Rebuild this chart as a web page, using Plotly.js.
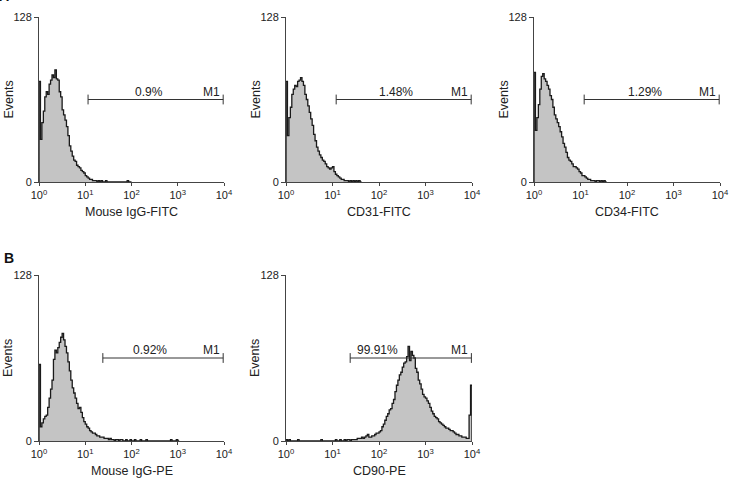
<!DOCTYPE html>
<html>
<head>
<meta charset="utf-8">
<script src="https://cdn.plot.ly/plotly-3.0.1.min.js"></script>
<style>
  html, body { margin: 0; padding: 0; background: #fff; }
  #chart { width: 729px; height: 479px; }
</style>
</head>
<body>
<div id="chart"></div>
<script>
// Flow cytometry histograms: events per log-spaced channel (32 channels per decade, 10^0..10^4).
const CHANNELS_PER_DECADE = 32;

// Panel A: FITC isotype control, CD31, CD34
const countsIgGFITC = [78,33,46,55,66,70,68,76,79,83,81,87,80,79,70,66,56,52,48,43,36,28,24,20,17,16,13,12,11,9,8,7,5,4,3,2,2,1,1,1,0,1,0,1,0,0,1,0,0,0,0,0,0,0,0,0,0,0,0,0,0,1,0,0];
const countsCD31    = [78,36,50,58,68,72,75,74,78,79,81,78,75,68,64,59,54,49,44,37,32,27,24,21,19,17,16,14,12,11,10,11,12,8,6,5,4,3,2,2,1,1,1,0,1,0,1,0,1,0,1,0];
const countsCD34    = [85,40,50,60,72,82,84,80,78,75,72,67,64,58,52,49,46,43,39,35,30,27,23,19,17,16,14,12,12,11,10,8,7,5,5,4,3,2,2,1,1,1,0,1,1,0,1,0,1,0];

// Panel B: PE isotype control, CD90
const countsIgGPE   = [59,11,14,17,19,20,26,33,40,47,63,70,68,72,76,80,83,78,73,68,61,54,47,41,37,33,29,25,26,22,18,15,13,11,10,8,7,6,6,5,4,4,3,3,3,2,2,2,1,2,1,1,0,1,1,0,1,1,0,0,1,0,0,1,0,0,1,0,0,0,1,0,0,0,1,0,0,0,0,0,0,0,0,0,0,0,0,0,0,0,0,1,0,0,0,1,0];
const countsCD90    = [1,0,1,0,0,0,0,0,1,0,0,0,0,0,0,0,0,0,0,0,0,0,0,0,1,0,0,0,0,0,0,0,
                       0,0,1,0,0,1,0,0,1,0,1,1,0,1,1,1,1,2,2,2,3,2,3,4,5,3,3,4,4,5,6,6,
                       7,8,11,13,16,19,21,24,25,29,32,38,43,47,51,53,57,60,61,65,73,62,69,66,64,56,53,47,44,40,36,34,
                       33,31,29,26,23,21,19,18,17,15,14,13,12,11,10,10,9,8,8,7,6,5,5,4,4,3,3,3,2,2,20,43];

// Marker M1 gate: start and end fluorescence, and the percentage of events inside it
const gateStart = [11.5, 12, 12, 24, 24];
const gateEnd   = [9600, 9600, 9600, 9600, 9700];
const gatePct   = ['0.9%', '1.48%', '1.29%', '0.92%', '99.91%'];
const gateName  = 'M1';

const axisTitles = ['Mouse IgG-FITC', 'CD31-FITC', 'CD34-FITC', 'Mouse IgG-PE', 'CD90-PE'];
const yTitle = 'Events';
const xTickVals = [1, 10, 100, 1000, 10000];
const xTickText = ['10<sup>0</sup>', '10<sup>1</sup>', '10<sup>2</sup>', '10<sup>3</sup>', '10<sup>4</sup>'];
const yTickVals = [0, 128];
const yTickText = ['0', '128'];
const panelLetters = ['A', 'B'];

const allCounts = [countsIgGFITC, countsCD31, countsCD34, countsIgGPE, countsCD90];

// Layout geometry (pixels in a 729 x 479 page)
const W = 729, H = 479;
const cols = [[39, 224], [286, 472], [534, 720]];
const rows = [[17, 182], [275, 441]];
const panelPos = [[0, 0], [1, 0], [2, 0], [0, 1], [1, 1]];
const pctLabelLog = [2.38, 2.37, 2.39, 2.40, 1.96];
const GATE_LEVEL = 64;

const traces = [];
const annotations = [];
const layout = {
  width: W, height: H,
  margin: {l: 0, r: 0, t: 0, b: 0},
  paper_bgcolor: '#fff', plot_bgcolor: 'rgba(0,0,0,0)',
  showlegend: false,
  font: {family: '"Liberation Sans", Arial, sans-serif', color: '#222'},
};

allCounts.forEach((counts, k) => {
  const n = k + 1;
  const xa = 'xaxis' + (n === 1 ? '' : n);
  const ya = 'yaxis' + (n === 1 ? '' : n);
  const xr = 'x' + (n === 1 ? '' : n);
  const yr = 'y' + (n === 1 ? '' : n);
  const [c, r] = panelPos[k];
  const [px0, px1] = cols[c];
  const [py0, py1] = rows[r];

  // Histogram outline: bin left edges on a log scale, stepped
  const xs = [1], ys = [0];
  counts.forEach((v, i) => { xs.push(Math.pow(10, i / CHANNELS_PER_DECADE)); ys.push(v); });
  xs.push(Math.pow(10, counts.length / CHANNELS_PER_DECADE)); ys.push(0);

  traces.push({
    type: 'scatter', mode: 'lines', x: xs, y: ys, xaxis: xr, yaxis: yr,
    line: {shape: 'hv', color: '#1a1a1a', width: 1.3},
    fill: 'tozeroy', fillcolor: '#c4c4c4', hoverinfo: 'skip'
  });

  // Gate bar with end caps
  traces.push({
    type: 'scatter', mode: 'lines+markers',
    x: [gateStart[k], gateEnd[k]], y: [GATE_LEVEL, GATE_LEVEL], xaxis: xr, yaxis: yr,
    line: {color: '#333', width: 1},
    marker: {symbol: 'line-ns-open', size: 7, line: {color: '#333', width: 1}},
    hoverinfo: 'skip'
  });

  layout[xa] = {
    domain: [px0 / W, px1 / W], anchor: yr, type: 'log', range: [0, 4],
    tickmode: 'array', tickvals: xTickVals, ticktext: xTickText,
    ticks: 'outside', ticklen: 3, tickcolor: '#444', tickwidth: 1,
    showline: true, linecolor: '#444', linewidth: 1,
    showgrid: false, zeroline: false, automargin: false, fixedrange: true,
    tickfont: {size: 11, color: '#222'}
  };
  layout[ya] = {
    domain: [(H - py1) / H, (H - py0) / H], anchor: xr, range: [0, 128],
    tickmode: 'array', tickvals: yTickVals, ticktext: yTickText,
    ticks: 'outside', ticklen: 4, tickcolor: '#444', tickwidth: 1,
    showline: true, linecolor: '#444', linewidth: 1,
    showgrid: false, zeroline: false, automargin: false, fixedrange: true,
    tickfont: {size: 11, color: '#222'}
  };

  // Gate labels
  annotations.push({
    xref: xr, yref: yr, x: pctLabelLog[k], y: GATE_LEVEL, xanchor: 'center', yanchor: 'bottom',
    text: gatePct[k], showarrow: false, font: {size: 12, color: '#222'}, borderpad: 0, yshift: 0
  });
  annotations.push({
    xref: xr, yref: yr, x: Math.log10(gateEnd[k]), y: GATE_LEVEL, xanchor: 'right', yanchor: 'bottom',
    text: gateName, showarrow: false, font: {size: 12, color: '#222'}, borderpad: 0, xshift: -2
  });

  // Axis titles
  annotations.push({
    xref: 'paper', yref: 'paper', x: (px0 + px1) / 2 / W, y: (H - (py1 + 30)) / H,
    xanchor: 'center', yanchor: 'middle', text: axisTitles[k], showarrow: false,
    font: {size: 12.5, color: '#222'}
  });
  annotations.push({
    xref: 'paper', yref: 'paper', x: (px0 - 31) / W, y: (H - (py0 + py1) / 2 + 0) / H,
    xanchor: 'center', yanchor: 'middle', text: yTitle, textangle: -90, showarrow: false,
    font: {size: 12.5, color: '#222'}
  });
});

// Panel letters
annotations.push({xref: 'paper', yref: 'paper', x: 4 / W, y: (H + 4) / H, xanchor: 'center', yanchor: 'middle',
  text: '<b>' + panelLetters[0] + '</b>', showarrow: false, font: {size: 14, color: '#111'}});
annotations.push({xref: 'paper', yref: 'paper', x: 8.5 / W, y: (H - 258) / H, xanchor: 'center', yanchor: 'middle',
  text: '<b>' + panelLetters[1] + '</b>', showarrow: false, font: {size: 14, color: '#111'}});

layout.annotations = annotations;

Plotly.newPlot('chart', traces, layout, {staticPlot: true, displayModeBar: false});
</script>
</body>
</html>
